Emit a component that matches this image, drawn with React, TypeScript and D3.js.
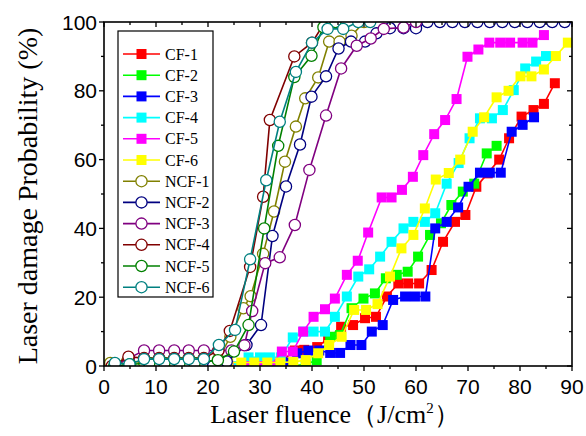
import React from "react";
import * as d3 from "d3";

type P = [number, number];

const xTicks = [0, 10, 20, 30, 40, 50, 60, 70, 80, 90];
const yTicks = [0, 20, 40, 60, 80, 100];
const seriesNames = ["CF-1", "CF-2", "CF-3", "CF-4", "CF-5", "CF-6", "NCF-1", "NCF-2", "NCF-3", "NCF-4", "NCF-5", "NCF-6"];
const seriesColors = ["#ff0000", "#00ff00", "#0000ff", "#00ffff", "#ff00ff", "#ffff00", "#808000", "#000080", "#800080", "#800000", "#008000", "#008080"];

const cf1: P[] = [[24,0],[27,0],[30,0],[33,0],[36.7,4.5],[38.5,4.7],[41,5.5],[43.1,8],[45.6,11.4],[47.9,11.9],[50.2,13.9],[52.3,14.3],[54.4,20.2],[56.6,24],[58.5,24],[60.6,24],[63,27.9],[65.2,36.1],[67.5,41.9],[69.5,43.9],[71.6,52.1],[73.8,56],[76,60],[77.9,66.2],[80.3,72.5],[82.6,74.4],[84.6,76.2],[86.7,82.2]];
const cf2: P[] = [[24,0],[27,0],[30,0],[33,0],[36,0],[38.8,0.5],[40.9,1.7],[43.5,8.5],[45.4,9],[47.6,16.8],[49.9,19.6],[52.1,21.1],[54.2,25.5],[56.3,26.5],[58.4,27.4],[60.4,31.8],[62.7,38.1],[64.8,41.5],[66.8,46.8],[69,50.7],[71.2,53],[73.6,61.8],[75.5,64]];
const cf3: P[] = [[26,0],[29,0],[32,0],[35,1],[37.2,3.7],[39.3,4.5],[41.4,4.5],[43.5,3.8],[45.4,3.8],[47.4,6.1],[49.5,6.1],[51.5,10],[53.6,11.9],[55.6,19.2],[57.9,20.2],[59.8,20.2],[61.8,20.2],[63.7,40],[65.9,41.9],[68.1,46.1],[70.1,52.1],[72.3,56.2],[74.2,56.2],[76.3,56.2],[78.4,68.1],[80.5,70.1],[82.7,72.3]];
const cf4: P[] = [[25.5,0],[27.8,2.5],[30,2.5],[31.9,2.5],[34,2.5],[36.3,8.3],[38.4,10],[40.3,10],[42.5,10],[44.4,14.3],[46.7,20.2],[48.9,26],[51,28.1],[53.1,31.8],[55.3,36.1],[57.6,40],[59.5,41.9],[61.7,41.9],[63.7,44.4],[65.9,53],[68.2,59],[70.3,66.2],[72.3,72],[74.6,72],[76.7,74.4],[78.8,80.2],[81,86.5],[83.1,88.5],[85,90.1]];
const cf5: P[] = [[24,0],[27,0],[30,0],[32,0],[34.2,4.2],[36.3,4.2],[38.3,10],[40.3,14.3],[42.5,16.5],[44.4,19.6],[46.7,26.5],[48.8,30.6],[50.8,38.8],[53.4,49],[55.3,49],[57.3,51.2],[59.4,55],[61.4,61.3],[63.5,67.4],[65.6,71.5],[67.8,77.6],[69.9,89.9],[72,92],[74.1,94],[76.2,94],[78.1,94],[80.5,94],[82.4,94],[84.6,96.2]];
const cf6: P[] = [[23.9,1],[26.4,1],[28.9,1],[31.4,1],[33.9,1],[36.4,1.2],[38.8,1.7],[41.2,3.7],[43.3,6.1],[45.7,8.5],[48.1,16.3],[50.4,16.3],[52.6,18],[55,26],[57.2,34.2],[59.5,38.1],[61.7,45.8],[63.8,54.2],[66.3,56.1],[68.5,60],[70.9,68.1],[73.1,72.3],[75.5,78.1],[77.8,80],[80.1,84.2],[82.2,84.2],[84.6,86.2],[86.9,90.1],[89.2,94]];
const ncf1: P[] = [[1.2,0.9],[4.5,1.5],[7.7,1],[10.6,1],[13.5,1],[16.3,1],[19.2,1],[22,2],[24.3,8.5],[26.8,16.8],[28.2,20.3],[30.6,32.6],[32.7,44.9],[34.8,59.4],[36.9,69.6],[38.7,77.8],[41.2,83.9],[43.3,94.3],[45.3,94.3],[47.6,96],[50,100]];
const ncf2: P[] = [[21,0],[23.6,1.3],[27.4,6.1],[30.2,11.9],[32.4,37.8],[35,52.2],[37.7,64.4],[39.9,78.3],[42.7,84.2],[45.1,92.3],[47.5,94.3],[50.2,94.3],[52.4,96.7],[55,98.2],[57.6,98.2],[60,98.2],[62.2,100],[64.6,100],[67,100],[69.4,100],[71.8,100],[74.2,100],[76.6,100],[79,100],[81.4,100],[83.8,100],[86.2,100],[88.6,100]];
const ncf3: P[] = [[2,0],[4.8,2.3],[7.7,4.5],[10.6,4.5],[13.5,4.5],[16.3,4.5],[19.2,4.5],[22,4.5],[24.5,4.5],[27,6],[28.5,16],[31,29.9],[33.8,31.6],[36.7,41],[39.5,57],[42.7,72.8],[45.6,86.5],[48.6,93.1],[51.3,95.2],[53.8,98],[57.6,98.4],[60,100]];
const ncf4: P[] = [[1.5,0],[4.7,2.7],[7.7,2.3],[10.6,2.3],[13.5,2.3],[16.3,2.3],[19.2,2.3],[22,4.5],[24.2,10.2],[28.1,28.8],[30.6,49.2],[31.9,71.5],[36.6,90],[40,94],[42.5,100]];
const ncf5: P[] = [[2,0],[5,0.5],[8.7,0.8],[11.6,0.8],[14.5,0.8],[17.4,0.8],[21.9,1.7],[25,4.2],[27.8,11.9],[30.8,40],[33.5,64],[36.6,84],[39.9,90.2],[42.2,98.5],[44.5,100]];
const ncf6: P[] = [[2.1,0.9],[4.9,0.5],[7.7,2],[10.6,2],[13.5,2],[16.3,2],[19.2,2],[22.1,6.1],[25.2,10.5],[28.1,31],[31.2,54],[33.8,71],[36.9,85.5],[40,94],[43,98],[46,98],[48.9,100],[51.2,100]];

const allSeries = [cf1, cf2, cf3, cf4, cf5, cf6, ncf1, ncf2, ncf3, ncf4, ncf5, ncf6];

const W = 586, H = 436;
const L = 104, R = 572, T = 22, B = 366;

export default function App() {
  const x = d3.scaleLinear().domain([0, 90]).range([L, R]);
  const y = d3.scaleLinear().domain([0, 100]).range([B, T]);
  const line = d3.line<P>().x(d => x(d[0])).y(d => y(d[1]));
  const xMinor = d3.range(0, 91, 5);
  const yMinor = d3.range(0, 101, 10);
  const sq = 10, rc = 5.6;
  const legX = 118, legY = 31, legW = 95, legH = 266;
  const legRow = (i: number) => 54 + i * 21.2;
  const serif = "'Liberation Serif', 'Times New Roman', serif";
  const sans = "'Liberation Sans', Arial, sans-serif";

  const marker = (i: number, cx: number, cy: number, key: any) =>
    i < 6 ? (
      <rect key={key} x={cx - sq / 2} y={cy - sq / 2} width={sq} height={sq} fill={seriesColors[i]} />
    ) : (
      <circle key={key} cx={cx} cy={cy} r={rc} fill="#fff" stroke={seriesColors[i]} strokeWidth={1.3} />
    );

  return (
    <svg width={W} height={H} style={{ position: "absolute", left: 0, top: 0, background: "#fff" }}>
      <defs>
        <clipPath id="plot">
          <rect x={L} y={T} width={R - L} height={B - T} />
        </clipPath>
      </defs>
      <rect x={0} y={0} width={W} height={H} fill="#fff" />
      <g clipPath="url(#plot)">
        {allSeries.map((s, i) => (
          <g key={i}>
            <path d={line(s) || ""} fill="none" stroke={seriesColors[i]} strokeWidth={1.6} />
            {s.map((p, j) => marker(i, x(p[0]), y(p[1]), j))}
          </g>
        ))}
      </g>
      <rect x={L} y={T} width={R - L} height={B - T} fill="none" stroke="#000" strokeWidth={1.6} />
      {xMinor.map(v => {
        const len = v % 10 === 0 ? 5 : 3;
        return (
          <g key={"xt" + v}>
            <line x1={x(v)} x2={x(v)} y1={B} y2={B + len} stroke="#000" strokeWidth={1.3} />
            <line x1={x(v)} x2={x(v)} y1={T} y2={T + len} stroke="#000" strokeWidth={1.3} />
          </g>
        );
      })}
      {yMinor.map(v => {
        const len = v % 20 === 0 ? 5 : 3;
        return (
          <g key={"yt" + v}>
            <line x1={L} x2={L - len} y1={y(v)} y2={y(v)} stroke="#000" strokeWidth={1.3} />
            <line x1={R} x2={R - len} y1={y(v)} y2={y(v)} stroke="#000" strokeWidth={1.3} />
          </g>
        );
      })}
      {xTicks.map(v => (
        <text key={"xl" + v} x={x(v)} y={394} textAnchor="middle" fontFamily={sans} fontSize={21}>{v}</text>
      ))}
      {yTicks.map(v => (
        <text key={"yl" + v} x={97} y={y(v) + 7.5} textAnchor="end" fontFamily={sans} fontSize={21}>{v}</text>
      ))}
      <text x={335} y={423} textAnchor="middle" fontFamily={serif} fontSize={26}>
        Laser fluence（J/cm<tspan dy={-10} fontSize={15}>2</tspan><tspan dy={10}>）</tspan>
      </text>
      <text transform={`translate(37, ${(T + B) / 2 + 2}) rotate(-90)`} textAnchor="middle" fontFamily={serif} fontSize={28}>
        Laser damage Probability (%)
      </text>
      <rect x={legX} y={legY} width={legW} height={legH} fill="#fff" stroke="#000" strokeWidth={1.2} />
      {seriesNames.map((n, i) => {
        const cy = legRow(i);
        return (
          <g key={"lg" + i}>
            <line x1={123} x2={160} y1={cy} y2={cy} stroke={seriesColors[i]} strokeWidth={1.6} />
            {marker(i, 141.5, cy, "m")}
            <text x={165} y={cy + 5.5} fontFamily={serif} fontSize={16}>{n}</text>
          </g>
        );
      })}
    </svg>
  );
}
